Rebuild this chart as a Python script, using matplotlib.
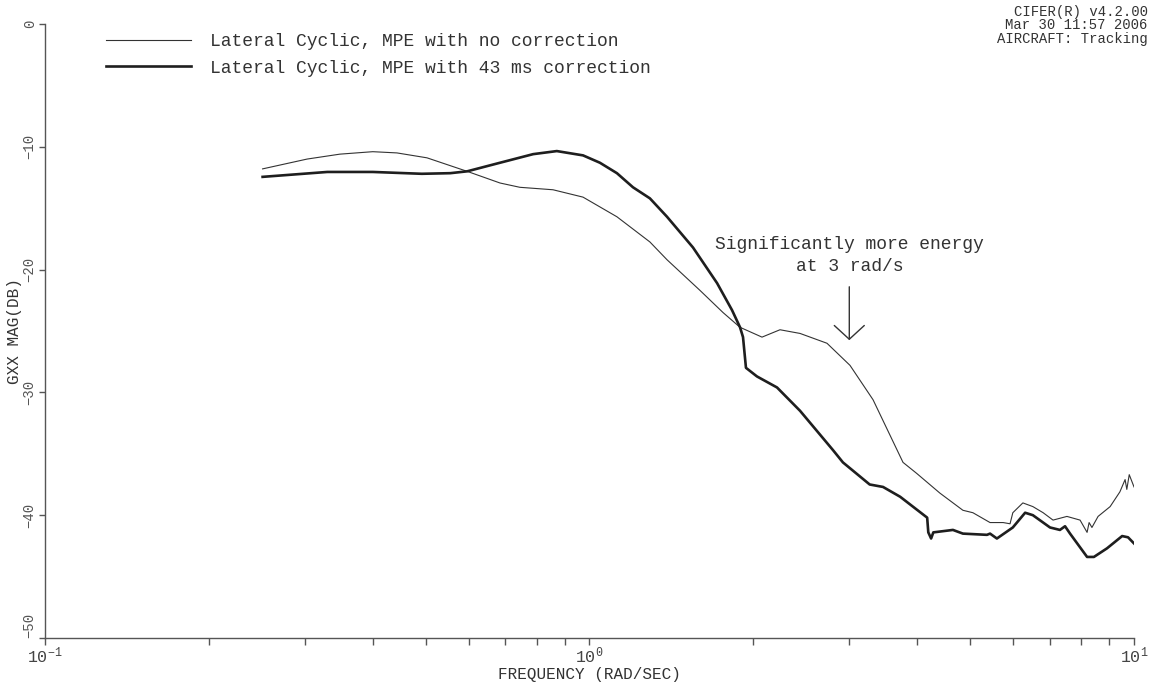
import numpy as np
import matplotlib
matplotlib.use('Agg')
from matplotlib import pyplot as plt
from matplotlib.ticker import LogLocator, NullFormatter, FixedLocator

plt.rcParams['font.family'] = ['Liberation Mono', 'DejaVu Sans Mono']
plt.rcParams['mathtext.fontset'] = 'custom'
plt.rcParams['mathtext.rm'] = 'Liberation Mono'
plt.rcParams['mathtext.it'] = 'Liberation Mono'
plt.rcParams['mathtext.bf'] = 'Liberation Mono'

# Lateral cyclic, MPE with no correction
freq_nc = [0.251, 0.303, 0.348, 0.400, 0.443, 0.503, 0.596, 0.685, 0.745, 0.857,
           0.973, 1.123, 1.291, 1.388, 1.596, 1.759, 1.890, 2.074, 2.238, 2.436,
           2.73, 3.009, 3.317, 3.765, 3.99, 4.40, 4.85, 5.06, 5.44, 5.75, 5.92,
           5.99, 6.25, 6.52, 6.81, 7.10, 7.53, 7.96, 8.20, 8.27, 8.37, 8.59,
           9.04, 9.42, 9.63, 9.70, 9.80, 10.0]
mag_nc = [-11.8, -11.0, -10.6, -10.4, -10.5, -10.9, -12.0, -12.95, -13.3, -13.5,
          -14.1, -15.7, -17.75, -19.2, -21.7, -23.5, -24.7, -25.5, -24.9, -25.2,
          -26.0, -27.8, -30.6, -35.7, -36.6, -38.2, -39.6, -39.8, -40.6, -40.6, -40.7,
          -39.8, -39.0, -39.3, -39.8, -40.4, -40.1, -40.4, -41.4, -40.6, -41.0, -40.1,
          -39.3, -38.1, -37.1, -37.9, -36.7, -37.7]

# Lateral cyclic, MPE with 43 ms correction
freq_c = [0.251, 0.330, 0.400, 0.492, 0.555, 0.596, 0.685, 0.788, 0.871, 0.973,
          1.045, 1.123, 1.202, 1.291, 1.388, 1.549, 1.715, 1.827, 1.890, 1.914,
          1.938, 2.03, 2.21, 2.436, 2.80, 2.92, 3.27, 3.46, 3.72, 4.17, 4.19,
          4.24, 4.28, 4.65, 4.85, 5.37, 5.44, 5.60, 5.99, 6.31, 6.52, 7.01, 7.31,
          7.47, 7.63, 8.20, 8.44, 8.92, 9.51, 9.75, 10.0]
mag_c = [-12.45, -12.05, -12.05, -12.2, -12.15, -12.0, -11.3, -10.6, -10.35, -10.7,
         -11.3, -12.15, -13.3, -14.2, -15.7, -18.2, -21.1, -23.3, -24.7, -25.5,
         -28.0, -28.7, -29.6, -31.5, -34.7, -35.7, -37.5, -37.7, -38.5, -40.2, -41.4,
         -41.9, -41.4, -41.2, -41.5, -41.6, -41.5, -41.9, -41.0, -39.8, -40.0, -41.0, -41.2,
         -40.9, -41.5, -43.4, -43.4, -42.7, -41.7, -41.8, -42.3]

ytick_vals = [0, -10, -20, -30, -40, -50]

fig = plt.figure(figsize=(11.5, 6.83), dpi=100)
ax = fig.add_axes([0.0391, 0.0659, 0.947, 0.899])

ax.plot(freq_nc, mag_nc, color='#333333', lw=0.8,
        label='Lateral Cyclic, MPE with no correction')
ax.plot(freq_c, mag_c, color='#1e1e1e', lw=1.9,
        label='Lateral Cyclic, MPE with 43 ms correction')

ax.set_xscale('log')
ax.set_xlim(0.1, 10)
ax.set_ylim(-50, 0)

ax.xaxis.set_major_locator(LogLocator(base=10))
ax.xaxis.set_minor_locator(LogLocator(base=10, subs=np.arange(2, 10)))
ax.xaxis.set_minor_formatter(NullFormatter())
ax.yaxis.set_major_locator(FixedLocator(ytick_vals))

for s in ['top', 'right']:
    ax.spines[s].set_visible(False)
for s in ['left', 'bottom']:
    ax.spines[s].set_color('#555555')
    ax.spines[s].set_linewidth(1.0)

ax.tick_params(axis='x', which='both', direction='out', length=5, width=1,
               color='#555555', labelsize=12, labelcolor='#444444', pad=0.5)
ax.tick_params(axis='y', which='major', direction='out', length=4, width=1,
               color='#555555', labelsize=10, labelcolor='#555555', pad=2)
ylabels = ax.get_yticklabels()
for lbl in ylabels:
    lbl.set_rotation(90)
    lbl.set_va('center')
# bottom label sits above its tick so it clears the 10^-1 label
ylabels[-1].set_va('bottom')

ax.set_xlabel('FREQUENCY (RAD/SEC)', fontsize=11.5, color='#333333')
ax.xaxis.set_label_coords(0.5, -0.047)
ax.set_ylabel('GXX MAG(DB)', fontsize=11.5, color='#333333')
ax.yaxis.set_label_coords(-0.021, 0.5)

ax.legend(loc='upper left', bbox_to_anchor=(0.041, 1.012), frameon=False,
          fontsize=13, handlelength=4.7, handletextpad=1.05, labelspacing=0.55,
          labelcolor='#333333')

ax.annotate('', xy=(3.0, -25.75), xytext=(3.0, -21.4),
            arrowprops=dict(arrowstyle='->, head_length=0.33, head_width=0.36',
                            color='#333333', lw=1.0, mutation_scale=30,
                            shrinkA=0, shrinkB=0))
ax.text(3.0, -18.85, 'Significantly more energy\nat 3 rad/s', ha='center', va='center',
        fontsize=13, color='#333333', linespacing=1.45)

fig.text(0.998, 0.982, 'CIFER(R) v4.2.00', ha='right', va='center', fontsize=10, color='#333333')
fig.text(0.998, 0.963, 'Mar 30 11:57 2006', ha='right', va='center', fontsize=10, color='#333333')
fig.text(0.998, 0.943, 'AIRCRAFT: Tracking', ha='right', va='center', fontsize=10, color='#333333')

fig.savefig('out.png', dpi=100)
